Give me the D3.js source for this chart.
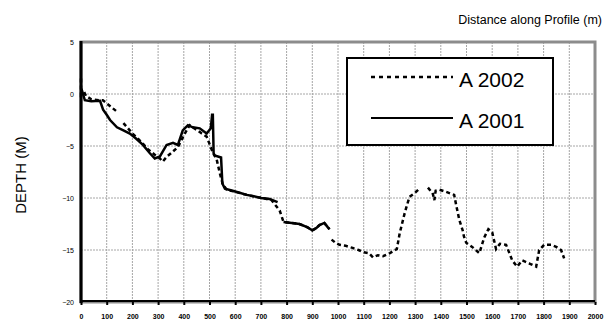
<!DOCTYPE html>
<html>
<head>
<meta charset="utf-8">
<script src="https://cdn.jsdelivr.net/npm/d3@7"></script>
<style>
  body { margin: 0; background: #fff; }
  svg { font-family: "Liberation Sans", Arial, sans-serif; }
</style>
</head>
<body>
<div id="chart"></div>
<script>
// Profile data (distance in m, depth in m, null = gap)
const dist2001 = [0, 3, 15, 40, 74, 86, 100, 113, 140, 165, 190, 215, 241, 268, 287, 307, 333, 358, 377, 396, 416, 435, 462, 489, 505, 510, 513, 516, 520, 545, 550, 560, 590, 617, 645, 668, 700, 734, 765,
                  null, 788, 820, 850, 880, 900, 915, 928, 947, 960, 967];
const depth2001 = [0.5, 0.4, -0.6, -0.7, -0.65, -1.5, -2.0, -2.5, -3.2, -3.5, -3.8, -4.3, -4.9, -5.7, -6.2, -6.0, -4.9, -4.7, -4.9, -3.5, -3.0, -3.2, -3.3, -3.8, -3.3, -2.0, -2.0, -5.7, -5.9, -6.1, -8.6, -9.1, -9.3, -9.5, -9.7, -9.8, -10.0, -10.1, -10.4,
                   null, -12.3, -12.4, -12.5, -12.8, -13.1, -12.9, -12.6, -12.4, -12.8, -13.0];

const dist2002 = [0, 0, 10, 20, 40, 70, 85, 110, 140, null, 165, 183, 200, 230, 260, 290, 307, 318, 335, 350, 377, 404, 423, 440, 454, 470, 489, 500, 514, 527, 540, 552, 567, 600, 645, 680, 707, 741, 773,
                  788, 820, 850, 880, 900, 915, 928, 947, 960, 967, null, 975, 990, 1006, 1030, 1057, 1080, 1097, 1120, 1136, 1155, 1175, 1202, 1229, 1240, 1260, 1278, 1300, 1317, null,
                  1350, 1360, 1368, 1375, 1380, 1395, 1420, 1452, 1460, 1472, 1485, 1490, 1499, 1522, 1550, 1569, 1585, 1600, 1615, 1630, 1654, 1678, 1697, 1717, 1745, 1771, 1783, 1802, 1830, 1849, 1868, 1880];
const depth2002 = [1.5, 0.0, 0.3, -0.2, -0.5, -0.6, -0.6, -1.1, -1.7, null, -2.8, -3.3, -3.8, -4.5, -5.3, -5.9, -6.2, -6.5, -6.0, -5.7, -5.1, -3.8, -3.0, -3.3, -3.5, -3.8, -4.1, -4.8, -5.7, -6.2, -7.6, -8.7, -9.2, -9.4, -9.7, -9.9, -10.0, -10.2, -11.2,
                   -12.3, -12.4, -12.5, -12.8, -13.1, -12.9, -12.6, -12.4, -12.8, -13.0, null, -14.0, -14.3, -14.5, -14.6, -14.8, -15.0, -15.2, -15.3, -15.7, -15.5, -15.6, -15.3, -14.9, -13.4, -11.4, -9.9, -9.5, -9.1, null,
                   -9.0, -9.3, -9.5, -10.2, -9.3, -9.2, -9.4, -9.7, -10.7, -12.1, -13.1, -13.7, -14.3, -14.7, -15.3, -13.8, -13.0, -13.3, -14.9, -14.4, -14.5, -16.0, -16.6, -16.0, -16.3, -16.6, -15.0, -14.5, -14.5, -14.7, -15.0, -15.8];

const xTicks = d3.range(0, 2001, 100);
const yTicks = [5, 0, -5, -10, -15, -20];
const seriesNames = ["A 2002", "A 2001"];

const width = 605, height = 325;
const margin = { top: 42, right: 10, bottom: 23, left: 81 };
const plotW = width - margin.left - margin.right;   // 514
const plotH = height - margin.top - margin.bottom;  // 260

const svg = d3.select("#chart").append("svg")
    .attr("width", width)
    .attr("height", height);

const x = d3.scaleLinear().domain([0, 2000]).range([margin.left, margin.left + plotW]);
const y = d3.scaleLinear().domain([-20, 5]).range([margin.top + plotH, margin.top]);

// gridlines
svg.append("g").selectAll("line")
    .data(xTicks.filter(d => d > 0 && d < 2000))
    .join("line")
    .attr("x1", d => x(d)).attr("x2", d => x(d))
    .attr("y1", y(5)).attr("y2", y(-20))
    .attr("stroke", "#a6a6a6").attr("stroke-dasharray", "2,1");

svg.append("g").selectAll("line")
    .data(yTicks.filter(d => d < 5 && d > -20))
    .join("line")
    .attr("x1", x(0)).attr("x2", x(2000))
    .attr("y1", d => y(d)).attr("y2", d => y(d))
    .attr("stroke", "#a6a6a6").attr("stroke-dasharray", "2,1");

// plot frame (grey) and black axis lines
svg.append("rect")
    .attr("x", x(0)).attr("y", y(5))
    .attr("width", plotW).attr("height", plotH)
    .attr("fill", "none").attr("stroke", "#8c8c8c").attr("stroke-width", 3);

svg.append("line")
    .attr("x1", x(0)).attr("x2", x(0)).attr("y1", y(5) - 1).attr("y2", y(-20) + 1)
    .attr("stroke", "#000").attr("stroke-width", 3);
svg.append("line")
    .attr("x1", x(0)).attr("x2", x(2000)).attr("y1", y(-20) - 1).attr("y2", y(-20) - 1)
    .attr("stroke", "#000").attr("stroke-width", 2);

// x axis
const xAxis = d3.axisBottom(x).tickValues(xTicks).tickSize(3).tickPadding(9).tickFormat(d3.format("d"));
svg.append("g")
    .attr("class", "x-axis")
    .attr("transform", `translate(0, ${y(-20)})`)
    .call(xAxis)
    .call(g => g.select(".domain").remove())
    .call(g => g.selectAll(".tick line").attr("stroke-width", 2))
    .call(g => g.selectAll("text").attr("font-size", "7px").attr("font-weight", "bold").attr("fill", "#000"));

// y axis
const yAxis = d3.axisLeft(y).tickValues(yTicks).tickSize(0).tickPadding(7);
svg.append("g")
    .attr("class", "y-axis")
    .attr("transform", `translate(${x(0)}, 0)`)
    .call(yAxis)
    .call(g => g.select(".domain").remove())
    .call(g => g.selectAll("text").attr("font-size", "7px").attr("fill", "#000"));

// series
const line = d3.line()
    .defined(d => d[0] != null && d[1] != null)
    .x(d => x(d[0]))
    .y(d => y(d[1]));

const data2001 = d3.zip(dist2001, depth2001);
const data2002 = d3.zip(dist2002, depth2002);

svg.append("path")
    .datum(data2001)
    .attr("d", line)
    .attr("fill", "none").attr("stroke", "#000").attr("stroke-width", 2.5);

svg.append("path")
    .datum(data2002)
    .attr("d", line)
    .attr("fill", "none").attr("stroke", "#000").attr("stroke-width", 2.5)
    .attr("stroke-dasharray", "4,3");

// legend
const legend = svg.append("g");
legend.append("rect")
    .attr("x", 347).attr("y", 58).attr("width", 206).attr("height", 87)
    .attr("fill", "#fff").attr("stroke", "#000").attr("stroke-width", 2);

const legendStyles = [
    { dash: "4,4", width: 2.5, ly: 77, ty: 87 },
    { dash: null, width: 2, ly: 118, ty: 128 }
];
seriesNames.forEach((name, i) => {
    const s = legendStyles[i];
    legend.append("line")
        .attr("x1", 371).attr("x2", 453).attr("y1", s.ly).attr("y2", s.ly)
        .attr("stroke", "#000").attr("stroke-width", s.width)
        .attr("stroke-dasharray", s.dash);
    legend.append("text")
        .attr("x", 459).attr("y", s.ty)
        .attr("font-size", "21px")
        .text(name);
});

// axis titles
svg.append("text")
    .attr("x", 602).attr("y", 24)
    .attr("text-anchor", "end")
    .attr("font-size", "12.5px")
    .text("Distance along Profile (m)");

svg.append("text")
    .attr("transform", `translate(26, ${y(-7.8)}) rotate(-90)`)
    .attr("text-anchor", "middle")
    .attr("font-size", "15px")
    .text("DEPTH (M)");
</script>
</body>
</html>
